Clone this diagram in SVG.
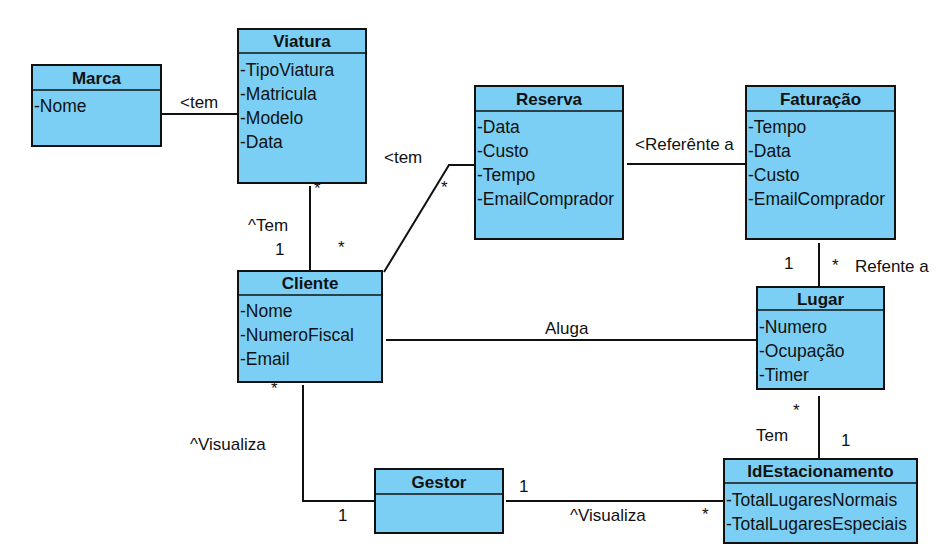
<svg xmlns="http://www.w3.org/2000/svg" width="952" height="556" viewBox="0 0 952 556">
<style>
.box{fill:#7BCFF4;stroke:#111;stroke-width:2}
.div{stroke:#111;stroke-width:1.5}
.h{font-family:"Liberation Sans",Arial,sans-serif;font-size:17px;font-weight:bold;fill:#111;text-anchor:middle}
.a{font-family:"Liberation Sans",Arial,sans-serif;font-size:17.5px;fill:#111}
.l{font-family:"Liberation Sans",Arial,sans-serif;font-size:17px;fill:#111}
.c{fill:none;stroke:#111;stroke-width:2}
</style>
<rect width="952" height="556" fill="#fff"/>
<g id="connectors">
<line class="c" x1="162" y1="114" x2="238" y2="114"/>
<text class="l" x="180" y="108">&lt;tem</text>
<line class="c" x1="310" y1="186" x2="310" y2="271"/>
<text class="l" x="314" y="194">*</text>
<text class="l" x="248" y="231">^Tem</text>
<text class="l" x="275" y="255">1</text>
<text class="l" x="338" y="253">*</text>
<polyline class="c" points="384,272 449,165 475,165"/>
<text class="l" x="441" y="193">*</text>
<text class="l" x="384" y="163">&lt;tem</text>
<line class="c" x1="627" y1="164" x2="746" y2="164"/>
<text class="l" x="635" y="150">&lt;Referênte a</text>
<line class="c" x1="819" y1="243" x2="819" y2="287"/>
<text class="l" x="784" y="269">1</text>
<text class="l" x="832" y="271">*</text>
<text class="l" x="855" y="272">Refente a</text>
<line class="c" x1="386" y1="340" x2="757" y2="340"/>
<text class="l" x="545" y="334">Aluga</text>
<polyline class="c" points="303,385 303,501 375,501"/>
<text class="l" x="271" y="394">*</text>
<text class="l" x="190" y="450">^Visualiza</text>
<text class="l" x="338" y="521">1</text>
<line class="c" x1="506" y1="501" x2="724" y2="501"/>
<text class="l" x="519" y="492">1</text>
<text class="l" x="570" y="521">^Visualiza</text>
<text class="l" x="702" y="520">*</text>
<line class="c" x1="819" y1="396" x2="819" y2="459"/>
<text class="l" x="793" y="416">*</text>
<text class="l" x="756" y="441">Tem</text>
<text class="l" x="841" y="446">1</text>
</g>
<g id="Marca">
<rect class="box" x="32" y="65" width="129" height="81"/>
<line class="div" x1="32" y1="90" x2="161" y2="90"/>
<text class="h" x="96.5" y="84">Marca</text>
<text class="a" x="34" y="112">-Nome</text>
</g>
<g id="Viatura">
<rect class="box" x="238" y="29" width="128" height="154"/>
<line class="div" x1="238" y1="53" x2="366" y2="53"/>
<text class="h" x="302" y="47">Viatura</text>
<text class="a" x="240" y="76">-TipoViatura</text>
<text class="a" x="240" y="100">-Matricula</text>
<text class="a" x="240" y="124">-Modelo</text>
<text class="a" x="240" y="148">-Data</text>
</g>
<g id="Reserva">
<rect class="box" x="475" y="86" width="148" height="153"/>
<line class="div" x1="475" y1="111" x2="623" y2="111"/>
<text class="h" x="549" y="105">Reserva</text>
<text class="a" x="477" y="133">-Data</text>
<text class="a" x="477" y="157">-Custo</text>
<text class="a" x="477" y="181">-Tempo</text>
<text class="a" x="477" y="205">-EmailComprador</text>
</g>
<g id="Faturacao">
<rect class="box" x="746" y="86" width="149" height="153"/>
<line class="div" x1="746" y1="111" x2="895" y2="111"/>
<text class="h" x="820.5" y="105">Faturação</text>
<text class="a" x="748" y="133">-Tempo</text>
<text class="a" x="748" y="157">-Data</text>
<text class="a" x="748" y="181">-Custo</text>
<text class="a" x="748" y="205">-EmailComprador</text>
</g>
<g id="Cliente">
<rect class="box" x="238" y="271" width="144" height="111"/>
<line class="div" x1="238" y1="295" x2="382" y2="295"/>
<text class="h" x="310" y="289">Cliente</text>
<text class="a" x="240" y="317">-Nome</text>
<text class="a" x="240" y="341">-NumeroFiscal</text>
<text class="a" x="240" y="365">-Email</text>
</g>
<g id="Lugar">
<rect class="box" x="757" y="287" width="127" height="102"/>
<line class="div" x1="757" y1="310" x2="884" y2="310"/>
<text class="h" x="820.5" y="305">Lugar</text>
<text class="a" x="759" y="333">-Numero</text>
<text class="a" x="759" y="357">-Ocupação</text>
<text class="a" x="759" y="381">-Timer</text>
</g>
<g id="Gestor">
<rect class="box" x="375" y="469" width="128" height="64"/>
<line class="div" x1="375" y1="494" x2="503" y2="494"/>
<text class="h" x="439" y="488">Gestor</text>
</g>
<g id="IdEstacionamento">
<rect class="box" x="724" y="459" width="193" height="84"/>
<line class="div" x1="724" y1="483" x2="917" y2="483"/>
<text class="h" x="820.5" y="477">IdEstacionamento</text>
<text class="a" x="726" y="506">-TotalLugaresNormais</text>
<text class="a" x="726" y="530">-TotalLugaresEspeciais</text>
</g>
</svg>
